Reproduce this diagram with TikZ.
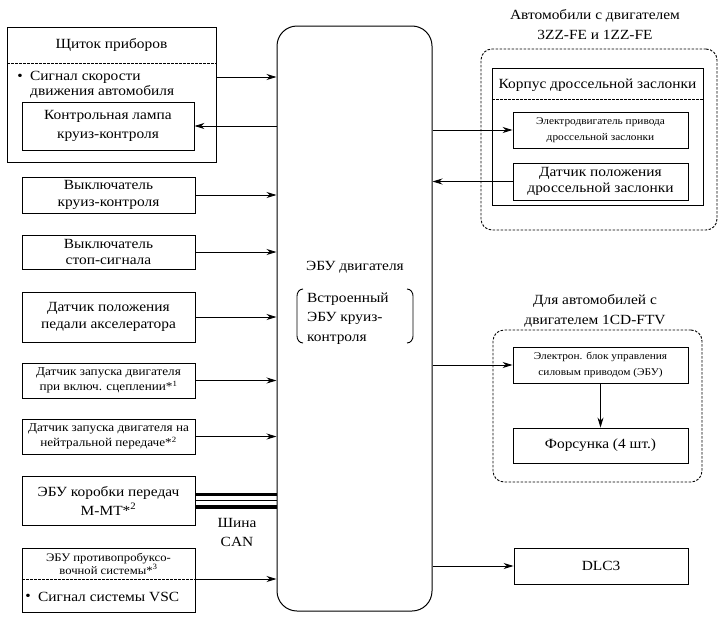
\documentclass[tikz,border=0pt]{standalone}
\usepackage{fontspec}
\setmainfont[FakeStretch=1.1]{Liberation Serif}
\usetikzlibrary{arrows.meta}
\begin{document}
\begin{tikzpicture}[x=1pt,y=-1pt,
  bx/.style={draw, line width=0.9pt, inner sep=0pt, align=center},
  big/.style={font=\fontsize{14}{16.5}\selectfont},
  sm/.style={font=\fontsize{12}{15.5}\selectfont},
  tiny/.style={font=\fontsize{10.3}{16.5}\selectfont},
  txt/.style={inner sep=0pt},
  arr/.style={line width=0.9pt, -{Stealth[length=10pt,width=6pt]}},
  dsh/.style={line width=0.9pt, dash pattern=on 2.5pt off 1.5pt},
  grp/.style={draw, line width=0.9pt, dash pattern=on 2.5pt off 1.5pt, rounded corners=11pt, inner sep=0pt},
]
\useasboundingbox (0,0) rectangle (723,621);

% ECU
\node[draw, line width=1pt, rounded corners=20pt, minimum width=155, minimum height=585, inner sep=0pt] (ecu) at (354.5,318.5) {};
\node[big, txt] (ecutitle) at (355,267) {ЭБУ двигателя};
\node[txt, align=left, anchor=west, font=\fontsize{14}{19.5}\selectfont] (cruise) at (307,318.5) {Встроенный\\ЭБУ круиз-\\контроля};
\draw[line width=0.9pt] (303,289) to[out=180,in=90] (297,296) -- (297,336) to[out=-90,in=180] (303,343);
\draw[line width=0.9pt] (407,289) to[out=0,in=90] (413,296) -- (413,336) to[out=-90,in=0] (407,343);

% Instrument panel
\node[bx, minimum width=209, minimum height=135] (panel) at (111.5,94.5) {};
\node[big, txt] (ptitle) at (111.5,45) {Щиток приборов};
\draw[dsh] (7,63) -- (216,63);
\node[big, txt] (sigb) at (20,77) {\textbullet};
\node[big, txt, anchor=west] (sig1) at (30,77) {Сигнал скорости};
\node[big, txt, anchor=west] (sig2) at (30,92) {движения автомобиля};
\node[bx, minimum width=172, minimum height=48, font=\fontsize{14}{19.5}\selectfont] (lamp) at (108,126) {Контрольная лампа\\круиз-контроля};
\draw[arr] (sig1 -| panel.east) -- (sig1 -| ecu.west);
\draw[arr] (lamp.east -| ecu.west) -- (lamp.east);

% Left inputs
\node[bx, big, minimum width=173, minimum height=36] (csw) at (108.5,195) {Выключатель\\круиз-контроля};
\node[bx, big, minimum width=173, minimum height=34] (stop) at (108.5,252) {Выключатель\\стоп-сигнала};
\node[bx, big, minimum width=173, minimum height=50] (pedal) at (108.5,317) {Датчик положения\\педали акселератора};
\node[bx, sm, minimum width=173, minimum height=35] (clutch) at (108.5,380.5) {Датчик запуска двигателя\\при включ. сцеплении*\textsuperscript{1}};
\node[bx, sm, minimum width=173, minimum height=35] (neutral) at (108.5,436.5) {Датчик запуска двигателя на\\нейтральной передаче*\textsuperscript{2}};
\node[bx, minimum width=173, minimum height=49, font=\fontsize{14}{19}\selectfont] (mmt) at (108.5,500.5) {ЭБУ коробки передач\\М-МТ*\textsuperscript{2}};
\foreach \n in {csw,stop,pedal,clutch,neutral}
  \draw[arr] (\n.east) -- (\n.east -| ecu.west);

% CAN bus
\draw[line width=3.5pt] ([yshift=6pt]mmt.east) -- ([yshift=6pt]mmt.east -| ecu.west);
\draw[line width=1pt] (mmt.east) -- (mmt.east -| ecu.west);
\draw[line width=3.5pt] ([yshift=-6.5pt]mmt.east) -- ([yshift=-6.5pt]mmt.east -| ecu.west);
\node[txt, align=center, font=\fontsize{14}{19}\selectfont] (can) at (237,532.5) {Шина\\CAN};

% TRC ECU
\node[bx, minimum width=173, minimum height=64] (trc) at (108.5,580) {};
\node[txt, align=center, font=\fontsize{11.5}{12.5}\selectfont] (trct) at (108.5,564) {ЭБУ противопробуксо-\\вочной системы*\textsuperscript{3}};
\draw[dsh] (22,579) -- (195,579);
\coordinate (trcout) at (195,579);
\node[big, txt] (vscb) at (28,597) {\textbullet};
\node[big, txt, anchor=west] (vsc) at (38,597) {Сигнал системы VSC};
\draw[arr] (trcout) -- (trcout -| ecu.west);

% Right: throttle group
\node[txt, align=center, font=\fontsize{14}{20}\selectfont] (g1t) at (595,25) {Автомобили с двигателем\\3ZZ-FE и 1ZZ-FE};
\node[grp, minimum width=236, minimum height=181] (g1) at (599,139.5) {};
\node[bx, minimum width=211, minimum height=137] (tb) at (597.5,136.5) {};
\node[big, txt] (tbt) at (597.5,85) {Корпус дроссельной заслонки};
\draw[dsh] (492,99) -- (703,99);
\node[bx, tiny, minimum width=175, minimum height=36] (motor) at (600.5,130) {Электродвигатель привода\\дроссельной заслонки};
\node[bx, big, minimum width=175, minimum height=37] (tps) at (600.5,181.5) {Датчик положения\\дроссельной заслонки};
\draw[arr] (motor.west -| ecu.east) -- (motor.west);
\draw[arr] (tps.west) -- (tps.west -| ecu.east);

% Right: 1CD-FTV group
\node[txt, align=center, font=\fontsize{14}{20}\selectfont] (g2t) at (595,311) {Для автомобилей с\\двигателем 1CD-FTV};
\node[grp, minimum width=209, minimum height=152] (g2) at (597.5,406) {};
\node[bx, tiny, minimum width=175, minimum height=36] (eps) at (600.5,365) {Электрон. блок управления\\силовым приводом (ЭБУ)};
\node[bx, big, minimum width=175, minimum height=35] (inj) at (600.5,445.5) {Форсунка (4 шт.)};
\draw[arr] (eps.west -| ecu.east) -- (eps.west);
\draw[arr] (eps.south) -- (inj.north);

% DLC3
\node[bx, big, minimum width=174, minimum height=36] (dlc) at (601,566) {DLC3};
\draw[arr] (dlc.west -| ecu.east) -- (dlc.west);
\end{tikzpicture}
\end{document}
